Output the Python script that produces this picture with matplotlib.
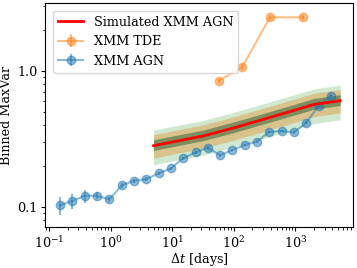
import matplotlib
matplotlib.use("Agg")
import matplotlib.pyplot as plt
from matplotlib.ticker import NullFormatter

plt.rcParams['font.family'] = ['DejaVu Serif']
plt.rcParams['mathtext.fontset'] = 'dejavuserif'
plt.rcParams['font.size'] = 9.2
plt.rcParams['xtick.major.size'] = 3
plt.rcParams['ytick.major.size'] = 3
plt.rcParams['xtick.minor.size'] = 1.8
plt.rcParams['ytick.minor.size'] = 1.8
plt.rcParams['xtick.major.pad'] = 2.5
plt.rcParams['ytick.major.pad'] = 2.5

# XMM AGN binned MaxVar
agn_dt = [0.151, 0.24, 0.38, 0.60, 0.96, 1.51, 2.40, 3.80, 6.03, 9.55,
          15.1, 24.0, 38.0, 60.3, 95.5, 151, 240, 380, 603, 955,
          1514, 2399, 3802]
agn_var = [0.102, 0.110, 0.120, 0.120, 0.113, 0.143, 0.155, 0.159, 0.176, 0.191,
           0.227, 0.251, 0.272, 0.239, 0.261, 0.284, 0.301, 0.356, 0.360, 0.353,
           0.415, 0.554, 0.658]
agn_err = [0.016, 0.014, 0.013, 0.007, 0.005, 0.006, 0.005, 0.005, 0.005, 0.005,
           0.006, 0.006, 0.009, 0.006, 0.006, 0.006, 0.007, 0.007, 0.008, 0.008,
           0.010, 0.012, 0.015]

# XMM TDE
tde_dt = [58, 139, 388, 1334]
tde_var = [0.848, 1.076, 2.49, 2.49]
tde_err = [0.03, 0.05, 0.08, 0.12]

# simulated AGN: median and percentile bands
sim_dt = [5.0, 10.0, 31.6, 100, 316, 1000, 1995, 5370]
sim_med = [0.281, 0.299, 0.331, 0.380, 0.442, 0.515, 0.566, 0.604]
sim_lo1 = [0.259, 0.276, 0.306, 0.351, 0.408, 0.475, 0.522, 0.557]
sim_hi1 = [0.311, 0.331, 0.366, 0.421, 0.489, 0.570, 0.627, 0.669]
sim_lo2 = [0.228, 0.243, 0.269, 0.309, 0.359, 0.419, 0.460, 0.491]
sim_hi2 = [0.339, 0.361, 0.400, 0.459, 0.534, 0.622, 0.684, 0.730]
sim_lo3 = [0.203, 0.216, 0.239, 0.275, 0.320, 0.372, 0.409, 0.437]
sim_hi3 = [0.366, 0.390, 0.431, 0.495, 0.576, 0.671, 0.737, 0.787]

fig = plt.figure(figsize=(3.57, 2.68), dpi=100)
ax = fig.add_axes([0.126, 0.153, 0.863, 0.836])

ax.fill_between(sim_dt, sim_lo3, sim_hi3, color="#cfe8cf", lw=0)
ax.fill_between(sim_dt, sim_lo2, sim_hi2, color="#d8c38c", lw=0)
ax.fill_between(sim_dt, sim_lo1, sim_hi1, color="#7f8e60", lw=0)
ax.plot(sim_dt, sim_med, color="red", lw=2, label="Simulated XMM AGN", zorder=3)

ax.errorbar(tde_dt, tde_var, yerr=tde_err, fmt="o-", color="tab:orange", alpha=0.5,
            ms=6, lw=1.5, label="XMM TDE")
ax.errorbar(agn_dt, agn_var, yerr=agn_err, fmt="o-", color="tab:blue", alpha=0.5,
            ms=6, lw=1.5, label="XMM AGN")

ax.set_xscale("log")
ax.set_yscale("log")
ax.set_xlim(0.0861, 8710)
ax.set_ylim(0.0706, 3.18)
ax.set_yticks([0.1, 1.0])
ax.set_yticklabels(["0.1", "1.0"])
ax.yaxis.set_minor_formatter(NullFormatter())

ax.set_xlabel(r"$\Delta t$ [days]", labelpad=0.5)
ax.set_ylabel("Binned MaxVar", labelpad=3)
ax.legend(loc="upper left", borderaxespad=0.6)

fig.savefig("out.png", dpi=100)
